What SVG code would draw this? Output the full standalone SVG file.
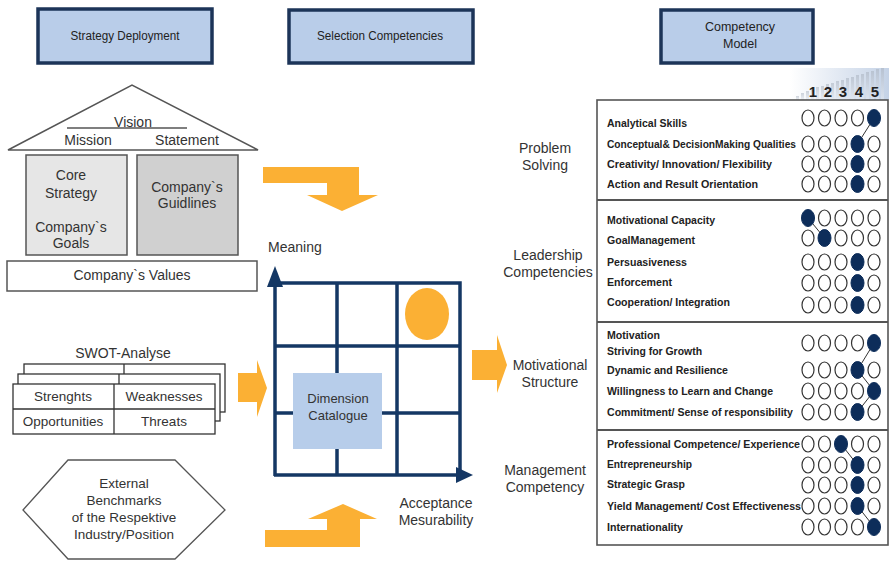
<svg xmlns="http://www.w3.org/2000/svg" width="890" height="561" viewBox="0 0 890 561">
<defs>
<linearGradient id="scaleGrad" x1="0" y1="0" x2="1" y2="0">
<stop offset="0" stop-color="#ffffff"/>
<stop offset="1" stop-color="#c4d2e6"/>
</linearGradient>
<linearGradient id="barGrad" x1="0" y1="0" x2="0" y2="1">
<stop offset="0" stop-color="#a9b2bf"/>
<stop offset="1" stop-color="#e8edf4"/>
</linearGradient>
</defs>
<style>
.hdr{fill:#b9cde9;stroke:#1c3458;stroke-width:3.5}
.hdrt{font-family:"Liberation Sans",Arial,sans-serif;font-size:12.5px;fill:#222;text-anchor:middle}
.gt{font-family:"Liberation Sans",Arial,sans-serif;font-size:14px;fill:#333;text-anchor:middle}
.st{font-family:"Liberation Sans",Arial,sans-serif;font-size:13.5px;fill:#333;text-anchor:middle}
.gs{stroke:#555;stroke-width:1.5}
.arr{fill:#fbb034}
.grid{stroke:#143764;stroke-width:3.5;fill:none}
.row{font-family:"Liberation Sans",Arial,sans-serif;font-size:11.5px;font-weight:bold;fill:#222}
.oc{fill:#fff;stroke:#333;stroke-width:1.2}
.fc{fill:#0d2d5a;stroke:#0d2d5a;stroke-width:1}
.cl{stroke:#333;stroke-width:1}
.num{font-family:"Liberation Sans",Arial,sans-serif;font-size:15px;font-weight:bold;fill:#222;text-anchor:middle}
</style>
<rect width="890" height="561" fill="#fff"/>

<g id="hdr-strategy">
<rect class="hdr" x="38" y="9" width="174" height="54"/>
<text class="hdrt" x="125" y="40" textLength="109" lengthAdjust="spacingAndGlyphs">Strategy Deployment</text>
</g>
<g id="hdr-selection">
<rect class="hdr" x="289" y="10" width="184" height="53"/>
<text class="hdrt" x="380" y="40" textLength="126" lengthAdjust="spacingAndGlyphs">Selection Competencies</text>
</g>
<g id="hdr-model">
<rect class="hdr" x="661" y="10" width="152" height="53"/>
<text class="hdrt" x="740" y="31">Competency</text>
<text class="hdrt" x="740" y="48">Model</text>
</g>

<g id="house">
<polygon points="8,150 132,85 258,150" fill="#fff" class="gs"/>
<line x1="67" y1="128" x2="187" y2="128" class="gs"/>
<text class="gt" x="133" y="127">Vision</text>
<text class="gt" x="88" y="145">Mission</text>
<text class="gt" x="187" y="145">Statement</text>
<rect x="26" y="155" width="101" height="100" fill="#e6e6e6" class="gs"/>
<rect x="137" y="155" width="101" height="100" fill="#d0d0d0" class="gs"/>
<text class="gt" x="71" y="180">Core</text>
<text class="gt" x="71" y="198">Strategy</text>
<text class="gt" x="71" y="232">Company`s</text>
<text class="gt" x="71" y="248">Goals</text>
<text class="gt" x="187" y="192">Company`s</text>
<text class="gt" x="187" y="208">Guidlines</text>
<rect x="7" y="261" width="250" height="30" fill="#fff" class="gs"/>
<text class="gt" x="132" y="280">Company`s Values</text>
</g>

<g id="swot">
<text class="gt" x="123" y="358">SWOT-Analyse</text>
<rect x="24" y="364" width="201" height="48" fill="#fff" stroke="#333" stroke-width="1.3"/>
<line x1="124" y1="364" x2="124" y2="374" stroke="#333" stroke-width="1.3"/>
<rect x="18" y="374" width="202" height="47" fill="#fff" stroke="#333" stroke-width="1.3"/>
<line x1="119" y1="374" x2="119" y2="384" stroke="#333" stroke-width="1.3"/>
<rect x="13" y="384" width="202" height="50" fill="#fff" stroke="#333" stroke-width="1.3"/>
<line x1="13" y1="409" x2="215" y2="409" stroke="#333" stroke-width="1.3"/>
<line x1="114" y1="384" x2="114" y2="434" stroke="#333" stroke-width="1.3"/>
<text class="st" x="63" y="401">Strenghts</text>
<text class="st" x="164" y="401">Weaknesses</text>
<text class="st" x="63" y="426">Opportunities</text>
<text class="st" x="164" y="426">Threats</text>
</g>

<g id="benchmarks">
<polygon points="23,510 68,460 175,460 225,510 175,559 68,559" fill="#fff" stroke="#555" stroke-width="1.3"/>
<text class="st" x="124" y="488">External</text>
<text class="st" x="124" y="505">Benchmarks</text>
<text class="st" x="124" y="522">of the Respektive</text>
<text class="st" x="124" y="539">Industry/Position</text>
</g>

<g id="grid-matrix">
<text class="gt" x="268" y="252" style="text-anchor:start">Meaning</text>
<rect x="293" y="373" width="89" height="76" fill="#b7cdea"/>
<path class="grid" d="M275,283 H460 V475 M337,283 V373 M337,449 V475 M397,283 V475 M275,346 H460 M275,413 H293 M382,413 H460"/>
<path class="grid" d="M275,476 V282 M274,475 H458"/>
<polygon points="275,266 283,287 267,287" fill="#143764"/>
<polygon points="473,475 456,467 456,483" fill="#143764"/>
<ellipse cx="427" cy="314" rx="22" ry="26" fill="#fbb034"/>
<text x="338" y="403" font-family="Liberation Sans, Arial, sans-serif" font-size="13" fill="#333" text-anchor="middle">Dimension</text>
<text x="338" y="420" font-family="Liberation Sans, Arial, sans-serif" font-size="13" fill="#333" text-anchor="middle">Catalogue</text>
<text class="gt" x="436" y="508">Acceptance</text>
<text class="gt" x="436" y="525">Mesurability</text>
</g>

<g id="connectors">
<polygon class="arr" points="263,167 359,167 359,195 378,195 342,211 307,195 327,195 327,183 263,183"/>
<polygon class="arr" points="238,373 257,373 257,360 267,388 257,417 257,402 238,402"/>
<polygon class="arr" points="472,350 497,350 497,335 507,365 497,393 497,380 472,380"/>
<polygon class="arr" points="265,547 360,547 360,519 377,519 343,504 308,519 327,519 327,530 265,530"/>
</g>

<g id="section-labels">
<text class="gt" x="545" y="153">Problem</text>
<text class="gt" x="545" y="170">Solving</text>
<text class="gt" x="548" y="260">Leadership</text>
<text class="gt" x="548" y="277">Competencies</text>
<text class="gt" x="550" y="370">Motivational</text>
<text class="gt" x="550" y="387">Structure</text>
<text class="gt" x="545" y="475">Management</text>
<text class="gt" x="545" y="492">Competency</text>
</g>

<g id="scale-header">
<rect x="790" y="68" width="99" height="32" fill="url(#scaleGrad)"/>
<g fill="url(#barGrad)" opacity="0.55">
<rect x="796" y="96" width="3" height="4"/>
<rect x="801" y="93" width="3" height="7"/>
<rect x="806" y="91" width="3" height="9"/>
<rect x="811" y="89" width="3" height="11"/>
<rect x="816" y="87" width="3" height="13"/>
<rect x="821" y="86" width="3" height="14"/>
<rect x="826" y="84" width="3" height="16"/>
<rect x="831" y="83" width="3" height="17"/>
<rect x="836" y="81" width="3" height="19"/>
<rect x="841" y="80" width="3" height="20"/>
<rect x="846" y="78" width="3" height="22"/>
<rect x="851" y="77" width="3" height="23"/>
<rect x="856" y="75" width="3" height="25"/>
<rect x="861" y="74" width="3" height="26"/>
<rect x="866" y="72" width="3" height="28"/>
<rect x="871" y="71" width="3" height="29"/>
<rect x="876" y="69" width="3" height="31"/>
<rect x="881" y="68" width="3" height="32"/>
</g>
<text class="num" x="813" y="97">1</text>
<text class="num" x="828" y="97">2</text>
<text class="num" x="843" y="97">3</text>
<text class="num" x="859" y="97">4</text>
<text class="num" x="875" y="97">5</text>
</g>

<g id="competency-panel">
<rect x="597" y="100" width="291" height="445" fill="#fff" stroke="#555" stroke-width="1.6"/>
<line x1="597" y1="200" x2="888" y2="200" stroke="#555" stroke-width="2"/>
<line x1="597" y1="322" x2="888" y2="322" stroke="#555" stroke-width="2"/>
<line x1="597" y1="430" x2="888" y2="430" stroke="#555" stroke-width="2"/>
</g>

<g id="problem-solving">
<text class="row" x="607" y="127" textLength="80" lengthAdjust="spacingAndGlyphs">Analytical Skills</text>
<text class="row" x="607" y="148" textLength="189" lengthAdjust="spacingAndGlyphs">Conceptual&amp; DecisionMaking Qualities</text>
<text class="row" x="607" y="168" textLength="165" lengthAdjust="spacingAndGlyphs">Creativity/ Innovation/ Flexibility</text>
<text class="row" x="607" y="188" textLength="151" lengthAdjust="spacingAndGlyphs">Action and Result Orientation</text>
<line class="cl" x1="874" y1="118" x2="857.5" y2="144"/>
<ellipse class="oc" cx="808" cy="118" rx="6" ry="8"/><ellipse class="oc" cx="824.5" cy="118" rx="6" ry="8"/><ellipse class="oc" cx="841" cy="118" rx="6" ry="8"/><ellipse class="oc" cx="857.5" cy="118" rx="6" ry="8"/><ellipse class="fc" cx="874" cy="118" rx="6.5" ry="8.5"/>
<ellipse class="oc" cx="808" cy="144" rx="6" ry="8"/><ellipse class="oc" cx="824.5" cy="144" rx="6" ry="8"/><ellipse class="oc" cx="841" cy="144" rx="6" ry="8"/><ellipse class="fc" cx="857.5" cy="144" rx="6.5" ry="8.5"/><ellipse class="oc" cx="874" cy="144" rx="6" ry="8"/>
<ellipse class="oc" cx="808" cy="164" rx="6" ry="8"/><ellipse class="oc" cx="824.5" cy="164" rx="6" ry="8"/><ellipse class="oc" cx="841" cy="164" rx="6" ry="8"/><ellipse class="fc" cx="857.5" cy="164" rx="6.5" ry="8.5"/><ellipse class="oc" cx="874" cy="164" rx="6" ry="8"/>
<ellipse class="oc" cx="808" cy="184" rx="6" ry="8"/><ellipse class="oc" cx="824.5" cy="184" rx="6" ry="8"/><ellipse class="oc" cx="841" cy="184" rx="6" ry="8"/><ellipse class="fc" cx="857.5" cy="184" rx="6.5" ry="8.5"/><ellipse class="oc" cx="874" cy="184" rx="6" ry="8"/>
</g>

<g id="leadership">
<text class="row" x="607" y="224" textLength="108" lengthAdjust="spacingAndGlyphs">Motivational Capacity</text>
<text class="row" x="607" y="244" textLength="88" lengthAdjust="spacingAndGlyphs">GoalManagement</text>
<text class="row" x="607" y="266" textLength="80" lengthAdjust="spacingAndGlyphs">Persuasiveness</text>
<text class="row" x="607" y="286" textLength="65" lengthAdjust="spacingAndGlyphs">Enforcement</text>
<text class="row" x="607" y="306" textLength="123" lengthAdjust="spacingAndGlyphs">Cooperation/ Integration</text>
<line class="cl" x1="808" y1="218" x2="824.5" y2="238"/>
<ellipse class="fc" cx="808" cy="218" rx="6.5" ry="8.5"/><ellipse class="oc" cx="824.5" cy="218" rx="6" ry="8"/><ellipse class="oc" cx="841" cy="218" rx="6" ry="8"/><ellipse class="oc" cx="857.5" cy="218" rx="6" ry="8"/><ellipse class="oc" cx="874" cy="218" rx="6" ry="8"/>
<ellipse class="oc" cx="808" cy="238" rx="6" ry="8"/><ellipse class="fc" cx="824.5" cy="238" rx="6.5" ry="8.5"/><ellipse class="oc" cx="841" cy="238" rx="6" ry="8"/><ellipse class="oc" cx="857.5" cy="238" rx="6" ry="8"/><ellipse class="oc" cx="874" cy="238" rx="6" ry="8"/>
<ellipse class="oc" cx="808" cy="262" rx="6" ry="8"/><ellipse class="oc" cx="824.5" cy="262" rx="6" ry="8"/><ellipse class="oc" cx="841" cy="262" rx="6" ry="8"/><ellipse class="fc" cx="857.5" cy="262" rx="6.5" ry="8.5"/><ellipse class="oc" cx="874" cy="262" rx="6" ry="8"/>
<ellipse class="oc" cx="808" cy="283" rx="6" ry="8"/><ellipse class="oc" cx="824.5" cy="283" rx="6" ry="8"/><ellipse class="oc" cx="841" cy="283" rx="6" ry="8"/><ellipse class="fc" cx="857.5" cy="283" rx="6.5" ry="8.5"/><ellipse class="oc" cx="874" cy="283" rx="6" ry="8"/>
<ellipse class="oc" cx="808" cy="305" rx="6" ry="8"/><ellipse class="oc" cx="824.5" cy="305" rx="6" ry="8"/><ellipse class="oc" cx="841" cy="305" rx="6" ry="8"/><ellipse class="fc" cx="857.5" cy="305" rx="6.5" ry="8.5"/><ellipse class="oc" cx="874" cy="305" rx="6" ry="8"/>
</g>

<g id="motivational">
<text class="row" x="607" y="339" textLength="53" lengthAdjust="spacingAndGlyphs">Motivation</text>
<text class="row" x="607" y="355" textLength="95" lengthAdjust="spacingAndGlyphs">Striving for Growth</text>
<text class="row" x="607" y="374" textLength="121" lengthAdjust="spacingAndGlyphs">Dynamic and Resilience</text>
<text class="row" x="607" y="395" textLength="166" lengthAdjust="spacingAndGlyphs">Willingness to Learn and Change</text>
<text class="row" x="607" y="416" textLength="186" lengthAdjust="spacingAndGlyphs">Commitment/ Sense of responsibility</text>
<polyline class="cl" fill="none" points="874,343 857.5,370 874,391 857.5,412"/>
<ellipse class="oc" cx="808" cy="343" rx="6" ry="8"/><ellipse class="oc" cx="824.5" cy="343" rx="6" ry="8"/><ellipse class="oc" cx="841" cy="343" rx="6" ry="8"/><ellipse class="oc" cx="857.5" cy="343" rx="6" ry="8"/><ellipse class="fc" cx="874" cy="343" rx="6.5" ry="8.5"/>
<ellipse class="oc" cx="808" cy="370" rx="6" ry="8"/><ellipse class="oc" cx="824.5" cy="370" rx="6" ry="8"/><ellipse class="oc" cx="841" cy="370" rx="6" ry="8"/><ellipse class="fc" cx="857.5" cy="370" rx="6.5" ry="8.5"/><ellipse class="oc" cx="874" cy="370" rx="6" ry="8"/>
<ellipse class="oc" cx="808" cy="391" rx="6" ry="8"/><ellipse class="oc" cx="824.5" cy="391" rx="6" ry="8"/><ellipse class="oc" cx="841" cy="391" rx="6" ry="8"/><ellipse class="oc" cx="857.5" cy="391" rx="6" ry="8"/><ellipse class="fc" cx="874" cy="391" rx="6.5" ry="8.5"/>
<ellipse class="oc" cx="808" cy="412" rx="6" ry="8"/><ellipse class="oc" cx="824.5" cy="412" rx="6" ry="8"/><ellipse class="oc" cx="841" cy="412" rx="6" ry="8"/><ellipse class="fc" cx="857.5" cy="412" rx="6.5" ry="8.5"/><ellipse class="oc" cx="874" cy="412" rx="6" ry="8"/>
</g>

<g id="management">
<text class="row" x="607" y="448" textLength="193" lengthAdjust="spacingAndGlyphs">Professional Competence/ Experience</text>
<text class="row" x="607" y="468" textLength="85" lengthAdjust="spacingAndGlyphs">Entrepreneurship</text>
<text class="row" x="607" y="488" textLength="78" lengthAdjust="spacingAndGlyphs">Strategic Grasp</text>
<text class="row" x="607" y="510" textLength="194" lengthAdjust="spacingAndGlyphs">Yield Management/ Cost Effectiveness</text>
<text class="row" x="607" y="531" textLength="76" lengthAdjust="spacingAndGlyphs">Internationality</text>
<line class="cl" x1="841" y1="444" x2="857.5" y2="465"/>
<line class="cl" x1="857.5" y1="506" x2="874" y2="527"/>
<ellipse class="oc" cx="808" cy="444" rx="6" ry="8"/><ellipse class="oc" cx="824.5" cy="444" rx="6" ry="8"/><ellipse class="fc" cx="841" cy="444" rx="6.5" ry="8.5"/><ellipse class="oc" cx="857.5" cy="444" rx="6" ry="8"/><ellipse class="oc" cx="874" cy="444" rx="6" ry="8"/>
<ellipse class="oc" cx="808" cy="465" rx="6" ry="8"/><ellipse class="oc" cx="824.5" cy="465" rx="6" ry="8"/><ellipse class="oc" cx="841" cy="465" rx="6" ry="8"/><ellipse class="fc" cx="857.5" cy="465" rx="6.5" ry="8.5"/><ellipse class="oc" cx="874" cy="465" rx="6" ry="8"/>
<ellipse class="oc" cx="808" cy="485" rx="6" ry="8"/><ellipse class="oc" cx="824.5" cy="485" rx="6" ry="8"/><ellipse class="oc" cx="841" cy="485" rx="6" ry="8"/><ellipse class="fc" cx="857.5" cy="485" rx="6.5" ry="8.5"/><ellipse class="oc" cx="874" cy="485" rx="6" ry="8"/>
<ellipse class="oc" cx="808" cy="506" rx="6" ry="8"/><ellipse class="oc" cx="824.5" cy="506" rx="6" ry="8"/><ellipse class="oc" cx="841" cy="506" rx="6" ry="8"/><ellipse class="fc" cx="857.5" cy="506" rx="6.5" ry="8.5"/><ellipse class="oc" cx="874" cy="506" rx="6" ry="8"/>
<ellipse class="oc" cx="808" cy="527" rx="6" ry="8"/><ellipse class="oc" cx="824.5" cy="527" rx="6" ry="8"/><ellipse class="oc" cx="841" cy="527" rx="6" ry="8"/><ellipse class="oc" cx="857.5" cy="527" rx="6" ry="8"/><ellipse class="fc" cx="874" cy="527" rx="6.5" ry="8.5"/>
</g>
</svg>
